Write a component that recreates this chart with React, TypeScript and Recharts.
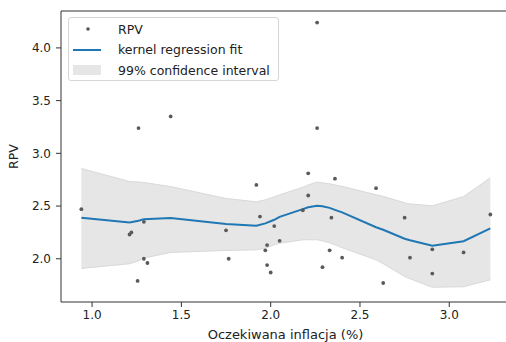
import {
  ComposedChart,
  Area,
  Line,
  Scatter,
  XAxis,
  YAxis,
  Legend,
  ReferenceArea,
} from 'recharts'

// observed points (inflation expectation, RPV)
const pointX = [
  0.94, 1.21, 1.22, 1.26, 1.255, 1.29, 1.29, 1.31, 1.44, 1.75, 1.765, 1.92,
  1.94, 1.97, 1.98, 1.98, 2.0, 2.02, 2.05, 2.18, 2.21, 2.21, 2.26, 2.26, 2.29,
  2.33, 2.34, 2.36, 2.4, 2.59, 2.63, 2.75, 2.78, 2.905, 2.905, 3.08, 3.23,
]
const pointY = [
  2.47, 2.23, 2.25, 3.24, 1.79, 2.35, 2.0, 1.96, 3.35, 2.27, 2.0, 2.7, 2.4,
  2.08, 2.13, 1.94, 1.87, 2.31, 2.17, 2.46, 2.81, 2.6, 4.24, 3.24, 1.92, 2.08,
  2.39, 2.76, 2.01, 2.67, 1.77, 2.39, 2.01, 2.09, 1.86, 2.06, 2.42,
]

// kernel regression fit and 99% band, at sorted x
const fitX = [
  0.94, 1.21, 1.26, 1.29, 1.44, 1.75, 1.92, 1.97, 2.02, 2.05, 2.18, 2.21, 2.26,
  2.29, 2.33, 2.36, 2.4, 2.59, 2.63, 2.75, 2.78, 2.905, 3.08, 3.23,
]
const fitY = [
  2.39, 2.344, 2.36, 2.376, 2.386, 2.329, 2.313, 2.336, 2.37, 2.398, 2.471,
  2.488, 2.502, 2.498, 2.483, 2.464, 2.44, 2.299, 2.275, 2.19, 2.175, 2.123,
  2.166, 2.289,
]
const bandHigh = [
  2.856, 2.733, 2.728, 2.723, 2.685, 2.572, 2.54, 2.559, 2.588, 2.607, 2.678,
  2.7, 2.727, 2.72, 2.711, 2.7, 2.687, 2.607, 2.592, 2.531, 2.52, 2.502, 2.59,
  2.768,
]
const bandLow = [
  1.908, 1.953, 1.98, 2.007, 2.06, 2.079, 2.085, 2.1, 2.133, 2.147, 2.18, 2.18,
  2.18, 2.17, 2.152, 2.133, 2.104, 1.99, 1.953, 1.832, 1.81, 1.73, 1.735, 1.8,
]

const xTicks = [1.0, 1.5, 2.0, 2.5, 3.0]
const yTicks = [2.0, 2.5, 3.0, 3.5, 4.0]

const X_DOMAIN: [number, number] = [0.826, 3.34]
const Y_DOMAIN: [number, number] = [1.59, 4.35]

const fitData = fitX.map((x, i) => ({
  x,
  fit: fitY[i],
  band: [bandLow[i], bandHigh[i]],
}))
const points = pointX.map((x, i) => ({ x, y: pointY[i] }))

const FONT = '"DejaVu Sans", sans-serif'
const tickStyle = { fontSize: 12, fill: '#222', fontFamily: FONT }

function Dot(props: any) {
  return <circle cx={props.cx} cy={props.cy} r={1.9} fill="#5a5a5a" />
}

function LegendBox() {
  const row = { display: 'flex', alignItems: 'center', height: 20.5 }
  const text = { marginLeft: 10, fontSize: 12.5, color: '#222' }
  return (
    <div
      style={{
        width: 211,
        height: 64,
        boxSizing: 'border-box',
        border: '1px solid #d6d6d6',
        borderRadius: 3,
        background: 'rgba(255,255,255,0.85)',
        padding: '1px 0 0 4px',
        fontFamily: FONT,
      }}
    >
      <div style={row}>
        <svg width={28} height={10} style={{ marginRight: 7 }}>
          <circle cx={15} cy={5} r={1.8} fill="#555" />
        </svg>
        <span style={text}>RPV</span>
      </div>
      <div style={row}>
        <svg width={28} height={10} style={{ marginRight: 7 }}>
          <line x1={0} y1={5} x2={28} y2={5} stroke="#1f77b4" strokeWidth={2} />
        </svg>
        <span style={text}>kernel regression fit</span>
      </div>
      <div style={row}>
        <svg width={28} height={10} style={{ marginRight: 7 }}>
          <rect x={0} y={0} width={28} height={10} fill="#e6e6e6" />
        </svg>
        <span style={text}>99% confidence interval</span>
      </div>
    </div>
  )
}

export default function App() {
  return (
    <div
      style={{
        position: 'absolute',
        left: 0,
        top: 0,
        width: 506,
        height: 342,
        overflow: 'hidden',
        background: '#fff',
      }}
    >
      <ComposedChart
        width={520}
        height={342}
        data={fitData}
        margin={{ top: 11, right: 10, bottom: 0, left: 0 }}
      >
        <XAxis
          dataKey="x"
          type="number"
          domain={X_DOMAIN}
          allowDataOverflow
          ticks={xTicks}
          tickFormatter={(v: number) => v.toFixed(1)}
          tick={tickStyle}
          tickSize={5}
          tickMargin={3}
          axisLine={false}
          tickLine={{ stroke: '#333' }}
          height={40}
          label={{
            value: 'Oczekiwana inflacja (%)',
            position: 'insideBottom',
            offset: 3,
            style: { ...tickStyle, fontSize: 13 },
          }}
        />
        <YAxis
          type="number"
          domain={Y_DOMAIN}
          allowDataOverflow
          ticks={yTicks}
          tickFormatter={(v: number) => v.toFixed(1)}
          tick={tickStyle}
          tickSize={5}
          tickMargin={5}
          axisLine={false}
          tickLine={{ stroke: '#333' }}
          width={61}
          label={{
            value: 'RPV',
            angle: -90,
            position: 'insideLeft',
            offset: 14,
            style: { ...tickStyle, fontSize: 12.5, textAnchor: 'middle' },
          }}
        />
        <Area
          dataKey="band"
          type="linear"
          fill="#808080"
          fillOpacity={0.2}
          stroke="#d9d9d9"
          strokeWidth={1}
          dot={false}
          activeDot={false}
          isAnimationActive={false}
        />
        <Line
          dataKey="fit"
          type="linear"
          stroke="#1f77b4"
          strokeWidth={2}
          dot={false}
          activeDot={false}
          isAnimationActive={false}
        />
        <Scatter
          data={points}
          dataKey="y"
          shape={Dot}
          isAnimationActive={false}
        />
        <ReferenceArea
          x1={X_DOMAIN[0]}
          x2={X_DOMAIN[1]}
          y1={Y_DOMAIN[0]}
          y2={Y_DOMAIN[1]}
          fill="none"
          stroke="#333"
          strokeWidth={1}
          ifOverflow="visible"
        />
        <Legend
          layout="vertical"
          align="center"
          verticalAlign="middle"
          content={() => <LegendBox />}
          wrapperStyle={{ left: 68, top: 17, width: 211, height: 64 }}
        />
      </ComposedChart>
    </div>
  )
}
